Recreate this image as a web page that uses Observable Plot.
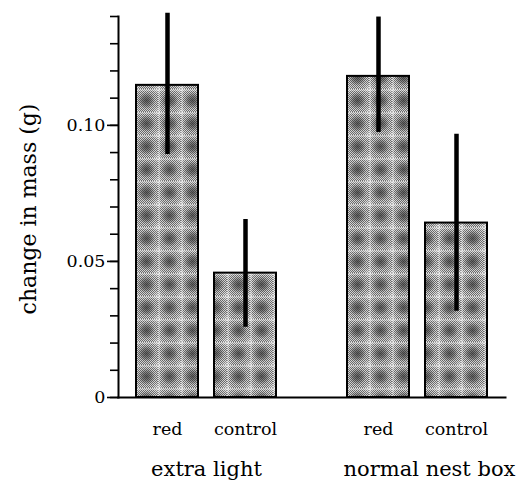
<!DOCTYPE html>
<html>
<head>
<meta charset="utf-8">
<script src="https://cdn.jsdelivr.net/npm/d3@7"></script>
<script src="https://cdn.jsdelivr.net/npm/@observablehq/plot@0.6"></script>
<style>
  html, body { margin: 0; padding: 0; background: #fff; }
  #chart svg { display: block; }
  #chart svg text { font-family: "DejaVu Serif", "Liberation Serif", serif; }
</style>
</head>
<body>
<div id="chart"></div>
<script>
// ---- data ----
const groups = ["extra light", "normal nest box"];
const conditions = ["red", "control"];
const barGroup = ["extra light", "extra light", "normal nest box", "normal nest box"];
const barCondition = ["red", "control", "red", "control"];
const meanChange = [0.1147, 0.0457, 0.1180, 0.0641];
const errLow = [0.0893, 0.0258, 0.0974, 0.0317];
const errHigh = [0.1412, 0.0654, 0.1398, 0.0967];
const yTicks = [0, 0.01, 0.02, 0.03, 0.04, 0.05, 0.06, 0.07, 0.08, 0.09, 0.10, 0.11, 0.12, 0.13, 0.14];
const yTickLabels = ["0", "", "", "", "", "0.05", "", "", "", "", "0.10", "", "", "", ""];
const yLabel = "change in mass (g)";

const rows = barGroup.map((g, i) => ({
  group: g, cond: barCondition[i], mean: meanChange[i], lo: errLow[i], hi: errHigh[i]
}));
const majorTicks = yTicks.filter((d, i) => yTickLabels[i] !== "");
const fmt = d => yTickLabels[yTicks.indexOf(d)];
const serif = "DejaVu Serif, Liberation Serif, serif";

const plot = Plot.plot({
  width: 523,
  height: 486,
  marginTop: 16,
  marginBottom: 89,
  marginLeft: 118,
  marginRight: 10,
  style: { fontFamily: serif, fontSize: "17px", background: "#fff", color: "#000" },
  fx: { domain: groups, axis: null, paddingInner: 0.166, paddingOuter: 0.019, align: 0 },
  x: { domain: conditions, axis: null, paddingInner: 0.205, paddingOuter: 0.23 },
  y: { domain: [0, 0.14], label: null },
  marks: [
    Plot.barY(rows, { fx: "group", x: "cond", y: "mean", fill: "url(#cellPattern)", stroke: "#000", strokeWidth: 2 }),
    Plot.ruleX(rows, { fx: "group", x: "cond", y1: "lo", y2: "hi", stroke: "#000", strokeWidth: 4.5 }),
    Plot.axisY(yTicks, { tickSize: 8, strokeWidth: 1.6, tickFormat: () => "", label: null }),
    Plot.axisY(majorTicks, { tickSize: 11, tickPadding: 2, strokeWidth: 1.6, tickFormat: fmt, fontSize: 17.5, fontFamily: serif, label: null }),
    Plot.frame({ anchor: "left", facetAnchor: "left", strokeWidth: 2 }),
    Plot.frame({ anchor: "bottom", facet: "super", strokeWidth: 2 }),
    Plot.text(rows, { fx: "group", x: "cond", text: "cond", frameAnchor: "bottom", dy: 37, fontSize: 17.5, fontFamily: serif }),
    Plot.text(groups.slice(0, 1), { fx: d => d, text: d => d, frameAnchor: "bottom", dy: 78, fontSize: 21, fontFamily: serif }),
    Plot.text(groups.slice(1), { fx: d => d, text: d => d, frameAnchor: "bottom", dy: 78, dx: 12, fontSize: 21, fontFamily: serif }),
    Plot.text([yLabel], { facet: "super", text: d => d, frameAnchor: "left", textAnchor: "middle", rotate: -90, dx: -90, dy: 2, fontSize: 22, fontFamily: serif })
  ]
});

// pattern definitions for the bar fill
const svg = d3.select(plot.tagName.toLowerCase() === "svg" ? plot : plot.querySelector("svg"));
const defs = svg.insert("defs", ":first-child");
const dither = defs.append("pattern").attr("id", "dither")
  .attr("width", 2).attr("height", 2).attr("patternUnits", "userSpaceOnUse");
dither.append("rect").attr("width", 2).attr("height", 2).attr("fill", "#d4d4d4");
dither.append("rect").attr("width", 1).attr("height", 1).attr("fill", "#686868");
dither.append("rect").attr("x", 1).attr("y", 1).attr("width", 1).attr("height", 1).attr("fill", "#686868");
const grad = defs.append("radialGradient").attr("id", "blobGrad");
grad.append("stop").attr("offset", "0").attr("stop-color", "#2a2a2a").attr("stop-opacity", 0.7);
grad.append("stop").attr("offset", "0.55").attr("stop-color", "#2a2a2a").attr("stop-opacity", 0.4);
grad.append("stop").attr("offset", "1").attr("stop-color", "#2a2a2a").attr("stop-opacity", 0);
const lightGrad = defs.append("radialGradient").attr("id", "lightGrad");
lightGrad.append("stop").attr("offset", "0").attr("stop-color", "#fff").attr("stop-opacity", 0.45);
lightGrad.append("stop").attr("offset", "1").attr("stop-color", "#fff").attr("stop-opacity", 0);
const cell = defs.append("pattern").attr("id", "cellPattern")
  .attr("x", -3).attr("y", -3).attr("width", 23).attr("height", 23).attr("patternUnits", "userSpaceOnUse");
cell.append("rect").attr("width", 23).attr("height", 23).attr("fill", "url(#dither)");
cell.append("rect").attr("y", -1).attr("width", 23).attr("height", 3).attr("fill", "#fff").attr("opacity", 0.28);
cell.append("rect").attr("x", -1).attr("width", 3).attr("height", 23).attr("fill", "#fff").attr("opacity", 0.28);
for (const [cx, cy] of [[0, 0], [23, 0], [0, 23], [23, 23]]) {
  cell.append("circle").attr("cx", cx).attr("cy", cy).attr("r", 6).attr("fill", "url(#lightGrad)");
}
cell.append("ellipse").attr("cx", 11.5).attr("cy", 11.5).attr("rx", 9).attr("ry", 8.5).attr("fill", "url(#blobGrad)");

document.getElementById("chart").appendChild(plot);
</script>
</body>
</html>
